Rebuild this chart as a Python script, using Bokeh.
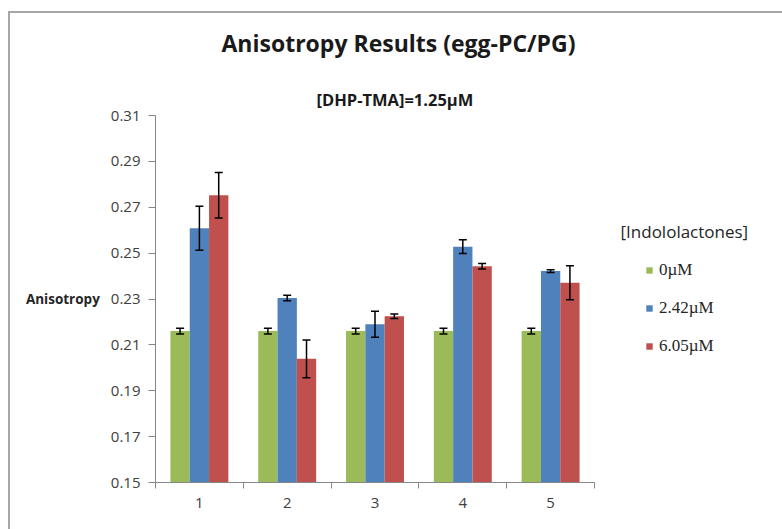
from bokeh.plotting import figure
from bokeh.models import (ColumnDataSource, Range1d, FixedTicker, NumeralTickFormatter,
                          Whisker, TeeHead, Legend, LegendItem, Label, Title)
from bokeh.transform import dodge
from bokeh.embed import file_html
from bokeh.resources import INLINE

# ---- data ----
groups = [1, 2, 3, 4, 5]
series = ["0\u00b5M", "2.42\u00b5M", "6.05\u00b5M"]
vals_0 = [0.2160, 0.2160, 0.2160, 0.2160, 0.2160]
vals_242 = [0.2608, 0.2304, 0.2190, 0.2528, 0.2422]
vals_605 = [0.2752, 0.2039, 0.2225, 0.2443, 0.2371]
err_0 = [0.0013, 0.0013, 0.0013, 0.0013, 0.0013]
err_242 = [0.0096, 0.0012, 0.0057, 0.0030, 0.0006]
err_605 = [0.0099, 0.0082, 0.0010, 0.0012, 0.0074]
y_ticks = [0.15, 0.17, 0.19, 0.21, 0.23, 0.25, 0.27, 0.29, 0.31]
colors = ["#9BBB59", "#4F81BD", "#C0504D"]

title_text = "Anisotropy  Results (egg-PC/PG)"
subtitle_text = "[DHP-TMA]=1.25\u00b5M"
legend_title = "[Indololactones]"
y_label = "Anisotropy"

vals = [vals_0, vals_242, vals_605]
errs = [err_0, err_242, err_605]
data = {"group": groups}
for i in range(3):
    data[f"v{i}"] = vals[i]
    data[f"u{i}"] = [v + e for v, e in zip(vals[i], errs[i])]
    data[f"l{i}"] = [v - e for v, e in zip(vals[i], errs[i])]
src = ColumnDataSource(data)

# ---- layout (pixels, page = canvas) ----
W, H = 782, 529
FL, FT, FB, FR = 155, 115, 529 - 482, 0
frame_w = W - FL - FR
cat_px = 87.8                   # pixels per category
x_lo = groups[0] - 0.5
x_hi = x_lo + frame_w / cat_px  # frame continues right to host the legend

p = figure(width=W, height=H, output_backend="svg", toolbar_location=None,
           x_range=Range1d(x_lo, x_hi), y_range=Range1d(y_ticks[0], y_ticks[-1]),
           min_border_left=FL, min_border_right=FR, min_border_top=FT,
           min_border_bottom=FB)
# chart-area edge (gray lines at left and top), drawn as the host background
p.border_fill_color = None
p.background_fill_color = None
p.styles = {"background": "linear-gradient(#A6A6A6, #A6A6A6) 8px 11px / 2px 100% no-repeat, "
                          "linear-gradient(#A6A6A6, #A6A6A6) 8px 11px / 100% 2px no-repeat, "
                          "#ffffff"}
p.outline_line_color = None
p.xgrid.visible = False
p.ygrid.visible = False

offsets = [-0.22, 0.0, 0.22]
bw = 0.22
renderers = []
for i in range(3):
    r = p.vbar(x=dodge("group", offsets[i]), top=f"v{i}", width=bw, source=src,
               fill_color=colors[i], line_color=None)
    renderers.append(r)
    w = Whisker(source=src, base=dodge("group", offsets[i]), upper=f"u{i}", lower=f"l{i}",
                line_color="black", line_width=1.5, level="overlay",
                upper_head=TeeHead(size=8, line_color="black", line_width=1.5),
                lower_head=TeeHead(size=8, line_color="black", line_width=1.5))
    p.add_layout(w)

# axes
ax = p.xaxis[0]
ax.bounds = (x_lo, groups[-1] + 0.5)
ax.ticker = FixedTicker(ticks=groups, minor_ticks=[g - 0.5 for g in groups] + [groups[-1] + 0.5])
ax.major_tick_in = 0
ax.major_tick_out = 0
ax.minor_tick_in = 0
ax.minor_tick_out = 6
ax.minor_tick_line_color = "#868686"
ax.axis_line_color = "#868686"
ax.major_label_standoff = 9
ax.major_label_text_font = "Open Sans"
ax.major_label_text_font_size = "15px"
ax.major_label_text_color = "#404040"

ay = p.yaxis[0]
ay.ticker = FixedTicker(ticks=y_ticks, minor_ticks=[])
ay.formatter = NumeralTickFormatter(format="0.00")
ay.major_tick_in = 0
ay.major_tick_out = 7
ay.major_tick_line_color = "#868686"
ay.minor_tick_line_color = None
ay.axis_line_color = "#868686"
ay.major_label_standoff = 8
ay.major_label_text_font = "Open Sans"
ay.major_label_text_font_size = "15px"
ay.major_label_text_color = "#404040"
ay.axis_label = y_label
ay.axis_label_orientation = "horizontal"
ay.axis_label_text_font = "Open Sans"
ay.axis_label_text_font_style = "bold"
ay.axis_label_text_font_size = "13.5px"
ay.axis_label_text_color = "#262626"
ay.axis_label_standoff = 8

# titles in the panels above the frame (p.title is the outer one)
p.title.text = title_text
p.title.align = "left"
p.title.offset = 66
p.title.vertical_align = "middle"
p.title.standoff = 46
p.title.text_font = "Open Sans"
p.title.text_font_style = "bold"
p.title.text_font_size = "23px"
p.title.text_color = "#1a1a1a"
p.add_layout(Title(text=subtitle_text, align="left", offset=161, vertical_align="middle",
                   standoff=8, text_font="Open Sans", text_font_style="bold",
                   text_font_size="16.5px", text_color="#1a1a1a"), "above")

# legend title and legend inside the (extended) frame; screen units from frame bottom-left
p.add_layout(Label(x=620 - FL, y=482 - 231, x_units="screen", y_units="screen",
                   text=legend_title, text_align="left", text_baseline="middle",
                   text_font="Open Sans", text_font_size="17px", text_color="#262626"))

legend = Legend(items=[LegendItem(label=series[i], renderers=[renderers[i]]) for i in range(3)],
                location=(645 - FL, 482 - 356), padding=0, margin=0, spacing=18,
                glyph_width=8, glyph_height=8, label_height=20, label_standoff=6,
                label_text_font="Liberation Serif", label_text_font_size="17px",
                label_text_color="#262626", background_fill_alpha=0,
                border_line_color=None)
p.add_layout(legend)

open("out.html", "w").write(file_html(p, INLINE))
